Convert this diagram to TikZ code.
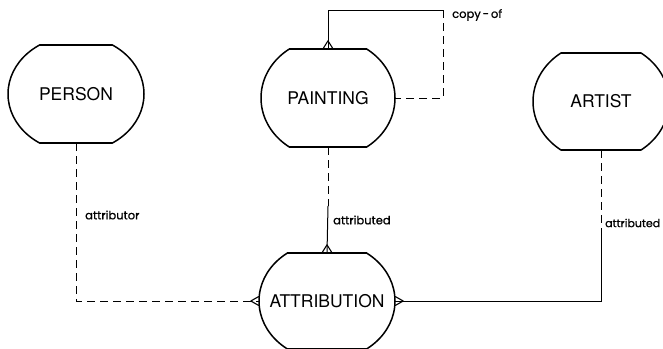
\documentclass[tikz,border=0pt]{standalone}
\usepackage{fontspec}
\setmainfont{TeX Gyre Heros}
\newfontfamily\rolefont[FakeBold=0.8]{Poppins}

% Outline of an entity: an ellipse cut flat at top and bottom.
% #1 node name, #2 x radius, #3 y radius, #4 half height of the cut
\newcommand\entityoutline[4]{%
  \pgfmathsetmacro\flatw{#2*sqrt(1-(#4/#3)^2)}%
  \begin{scope}
    \clip ([xshift=-4pt]#1.south west) rectangle ([xshift=4pt]#1.north east);
    \draw[outline] (#1.center) ellipse [x radius=#2pt, y radius=#3pt];
  \end{scope}
  \draw[outline] ([xshift=-\flatw pt]#1.north) -- ([xshift=\flatw pt]#1.north);
  \draw[outline] ([xshift=-\flatw pt]#1.south) -- ([xshift=\flatw pt]#1.south);
}

\begin{document}
\begin{tikzpicture}[x=1pt,y=-1pt,
  outline/.style={line width=1.5pt, line join=round},
  entbox/.style={rectangle, inner sep=0pt, font=\fontsize{17.5}{17.5}\selectfont},
  conn/.style={line width=1pt},
  dashconn/.style={conn, dash pattern=on 8pt off 5pt},
  crow/.style={line width=1.1pt, line join=round},
  rolelabel/.style={anchor=west, inner sep=0pt, font=\rolefont\fontsize{11.5}{11.5}\selectfont},
]
\useasboundingbox (0,0) rectangle (663,348);
\clip (0,0) rectangle (663,348);
\fill[white] (0,0) rectangle (663,348);

% entities
\node[entbox, minimum width=136pt, minimum height=98pt] (person) at (76,94) {PERSON};
\node[entbox, minimum width=134pt, minimum height=98pt] (paint)  at (328,98) {PAINTING};
\node[entbox, minimum width=136pt, minimum height=97pt] (artist) at (601,101.5) {ARTIST};
\node[entbox, minimum width=136pt, minimum height=96pt] (attr)   at (327,301) {ATTRIBUTION};

\entityoutline{person}{68}{58}{49}
\entityoutline{paint}{67}{60}{49}
\entityoutline{artist}{68}{60}{48.5}
\entityoutline{attr}{68}{59}{48}

% copy-of loop
\coordinate (loopTL) at (paint.north |- 0,10);
\coordinate (loopTR) at (443,10);
\coordinate (loopBR) at (loopTR |- paint.east);
\draw[conn] (paint.north) -- (loopTL) -- (loopTR);
\draw[dashconn] (loopTR) -- (loopBR) -- (paint.east);
\draw[crow] ([xshift=-5pt]paint.north) -- ([yshift=8pt]paint.north) -- ([xshift=5pt]paint.north);
\node[rolelabel] (lcopy) at (452,15) {copy\,-\,of};

% painting -- attribution
\coordinate (pamid) at (paint.south |- 0,206);
\draw[dashconn] (paint.south) -- (pamid);
\draw[conn] (pamid) -- (attr.north);
\draw[crow] ([xshift=-5pt]attr.north) -- ([yshift=8pt]attr.north) -- ([xshift=5pt]attr.north);
\node[rolelabel] (lpaint) at (333,220) {attributed};

% artist -- attribution
\coordinate (armid) at (artist.south |- 0,236);
\coordinate (arcorner) at (artist.south |- attr.east);
\draw[dashconn] (artist.south) -- (armid);
\draw[conn] (armid) -- (arcorner) -- (attr.east);
\draw[crow] ([yshift=-4.5pt]attr.east) -- ([xshift=8pt]attr.east) -- ([yshift=4.5pt]attr.east);
\node[rolelabel, font=\rolefont\fontsize{11}{11}\selectfont] (lartist) at (605,223) {attributed};

% person -- attribution
\coordinate (pecorner) at (person.south |- attr.west);
\draw[dashconn] (person.south) -- (pecorner) -- (attr.west);
\draw[crow] ([yshift=-4.5pt]attr.west) -- ([xshift=-8pt]attr.west) -- ([yshift=4.5pt]attr.west);
\node[rolelabel] (lperson) at (85,215) {attributor};
\end{tikzpicture}
\end{document}
